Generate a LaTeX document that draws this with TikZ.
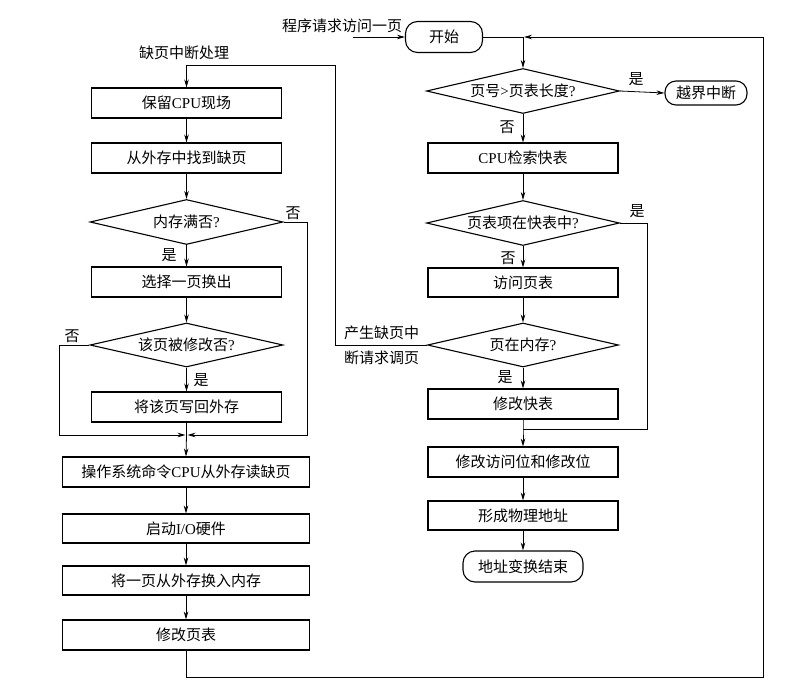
\documentclass[tikz,border=0pt]{standalone}
\usepackage{fontspec}
\setmainfont{Liberation Serif}
\newfontfamily\cjk{Noto Sans CJK SC}
\usetikzlibrary{arrows.meta,shapes.geometric}
\begin{document}
\begin{tikzpicture}[x=1pt,y=-1pt,
  every node/.style={font=\fontsize{15}{17}\selectfont\cjk, inner sep=0pt},
  procbox/.style={draw, line width=1.1pt, minimum width=190pt, minimum height=30pt},
  widebox/.style={procbox, minimum width=247pt},
  decide/.style={draw, line width=1.1pt, diamond, aspect=4.3, minimum width=193pt, minimum height=45pt},
  term/.style={draw, line width=1.1pt, rounded corners=12pt, minimum height=31pt},
  lbl/.style={font=\fontsize{15}{17}\selectfont\cjk},
  flow/.style={line width=0.8pt, -{Stealth[length=8pt,width=4.5pt]}},
  link/.style={line width=0.8pt}]
\useasboundingbox (0,0) rectangle (807,691);

% right column
\node[term, minimum width=77pt] (start) at (444,37) {开始};
\coordinate (j0) at (523,37);
\coordinate (inA) at (353,37);
\node[lbl, anchor=south] (inlbl) at (342,33) {程序请求访问一页};
\node[decide] (d3) at (523,91) {页号{\rmfamily\fontspec{Liberation Serif}>}页表长度{\fontspec{Liberation Serif}?}};
\node[term, minimum width=82pt, minimum height=24pt, rounded corners=11pt] (e1) at (706,93) {越界中断};
\node[procbox] (b9) at (523,158) {{\fontspec{Liberation Serif}CPU}检索快表};
\node[decide] (d4) at (523,223) {页表项在快表中{\fontspec{Liberation Serif}?}};
\node[procbox, minimum height=29pt] (b10) at (523,282.5) {访问页表};
\node[decide, minimum width=191pt, minimum height=44pt] (d5) at (523,345) {页在内存{\fontspec{Liberation Serif}?}};
\node[procbox] (b11) at (523,404) {修改快表};
\coordinate (j1) at (523,429);
\node[procbox] (b12) at (523,462) {修改访问位和修改位};
\node[procbox, minimum height=29pt] (b13) at (523,515.5) {形成物理地址};
\node[term, minimum width=120pt] (e2) at (523,566.5) {地址变换结束};

% left column
\node[lbl] (fault) at (184,53) {缺页中断处理};
\node[procbox] (b1) at (186.5,103) {保留{\fontspec{Liberation Serif}CPU}现场};
\node[procbox] (b2) at (186.5,158) {从外存中找到缺页};
\node[decide] (d1) at (186.5,222) {内存满否{\fontspec{Liberation Serif}?}};
\node[procbox] (b3) at (186.5,282) {选择一页换出};
\node[decide, minimum height=44pt] (d2) at (186.5,345) {该页被修改否{\fontspec{Liberation Serif}?}};
\node[procbox] (b4) at (186.5,407) {将该页写回外存};
\coordinate (m1) at (186.5,435);
\node[widebox] (b5) at (186,472) {操作系统命令{\fontspec{Liberation Serif}CPU}从外存读缺页};
\node[widebox, minimum height=29pt] (b6) at (186,528.5) {启动{\fontspec{Liberation Serif}I/O}硬件};
\node[widebox, minimum height=29pt] (b7) at (186,580.5) {将一页从外存换入内存};
\node[widebox] (b8) at (186,635) {修改页表};

% labels
\node[lbl] (l1) at (636,79) {是};
\node[lbl] (l2) at (507,127) {否};
\node[lbl] (l3) at (637,211) {是};
\node[lbl] (l4) at (508,258) {否};
\node[lbl] (l5) at (505,377) {是};
\node[lbl, align=left, anchor=west, font=\fontsize{15}{25}\selectfont\cjk] (l6) at (344,345) {产生缺页中\\断请求调页};
\node[lbl] (l7) at (293,213) {否};
\node[lbl] (l8) at (169,255) {是};
\node[lbl] (l9) at (72,336) {否};
\node[lbl] (l10) at (201,380) {是};

% right connectors
\draw[flow] (inA) -- (start.west);
\draw[link] (start.east) -- (j0);
\draw[flow] (j0) -- (d3.north);
\draw[flow] (d3.east) -- (e1.west);
\draw[flow] (d3.south) -- (b9.north);
\draw[flow] (b9.south) -- (d4.north);
\draw[link] (d4.east) -- (647,223) -- (647,429) -- (j1);
\draw[flow] (d4.south) -- (b10.north);
\draw[flow] (b10.south) -- (d5.north);
\draw[flow] (d5.west) -- (335,345) -- (335,65) -- (186.5,65) -- (b1.north);
\draw[flow] (d5.south) -- (b11.north);
\draw[flow] (b11.south) -- (j1) -- (b12.north);
\draw[flow] (b12.south) -- (b13.north);
\draw[flow] (b13.south) -- (e2.north);

% left connectors
\draw[flow] (b1.south) -- (b2.north);
\draw[flow] (b2.south) -- (d1.north);
\draw[flow] (d1.east) -- (307,222) -- (307,435) -- ([xshift=1pt]m1);
\draw[flow] (d1.south) -- (b3.north);
\draw[flow] (b3.south) -- (d2.north);
\draw[flow] (d2.west) -- (59,345) -- (59,435) -- ([xshift=-1pt]m1);
\draw[flow] (d2.south) -- (b4.north);
\draw[flow] (b4.south) -- (m1) -- (b5.north);
\draw[flow] (b5.south) -- (b6.north);
\draw[flow] (b6.south) -- (b7.north);
\draw[flow] (b7.south) -- (b8.north);
\draw[flow] (b8.south) -- (186,677) -- (763,677) -- (763,37) -- ([xshift=1pt]j0);
\end{tikzpicture}
\end{document}
